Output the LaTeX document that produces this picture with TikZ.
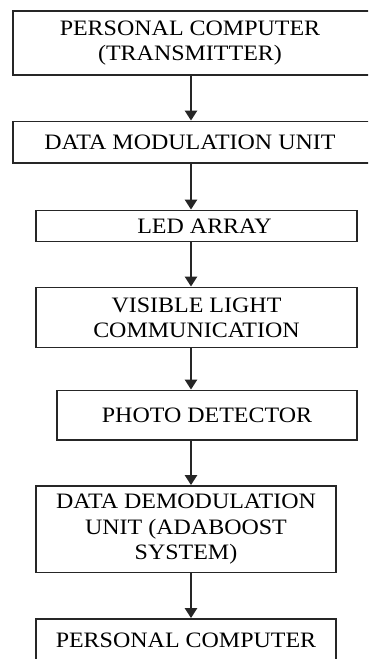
\documentclass[tikz,border=0pt]{standalone}
\usepackage{fontspec}
\setmainfont[FakeStretch=1.09]{Liberation Serif}
\usetikzlibrary{arrows.meta}
\begin{document}
\begin{tikzpicture}[x=0.75pt,y=-0.75pt,
  blk/.style={draw=black!85,line width=1.35pt,inner sep=0pt,align=center,
    font=\fontsize{16.5pt}{19pt}\selectfont},
  arr/.style={line width=1.8pt,draw=black!85,-{Triangle[width=9pt,length=7.5pt]}}]
\useasboundingbox (0,0) rectangle (368,659);
\clip (0,0) rectangle (368,659);
\coordinate (ax) at (191,0);
\node[blk,minimum width=362*0.75pt,minimum height=64*0.75pt] (b1) at (194,43)
  {\hspace*{-6pt}PERSONAL COMPUTER\\\hspace*{-6pt}(TRANSMITTER)};
\node[blk,minimum width=362*0.75pt,minimum height=41.5*0.75pt] (b2) at (194,142.25)
  {\hspace*{-6pt}DATA MODULATION UNIT};
\node[blk,minimum width=321*0.75pt,minimum height=31*0.75pt] (b3) at (196.5,226)
  {\hspace*{12pt}LED ARRAY};
\node[blk,minimum width=321*0.75pt,minimum height=60*0.75pt] (b4) at (196.5,317.5)
  {VISIBLE LIGHT\\COMMUNICATION};
\node[blk,minimum width=300*0.75pt,minimum height=49.5*0.75pt] (b5) at (207,415.25)
  {PHOTO DETECTOR};
\node[blk,minimum width=300*0.75pt,minimum height=86.5*0.75pt] (b6) at (186,529.25)
  {DATA DEMODULATION\\UNIT (ADABOOST\\SYSTEM)};
\node[blk,minimum width=300*0.75pt,minimum height=43*0.75pt] (b7) at (186,640.5)
  {PERSONAL COMPUTER};
\draw[arr] (b1.south -| ax) -- (b2.north -| ax);
\draw[arr] (b2.south -| ax) -- (b3.north -| ax);
\draw[arr] (b3.south -| ax) -- (b4.north -| ax);
\draw[arr] (b4.south -| ax) -- (b5.north -| ax);
\draw[arr] (b5.south -| ax) -- (b6.north -| ax);
\draw[arr] (b6.south -| ax) -- (b7.north -| ax);
\end{tikzpicture}
\end{document}
